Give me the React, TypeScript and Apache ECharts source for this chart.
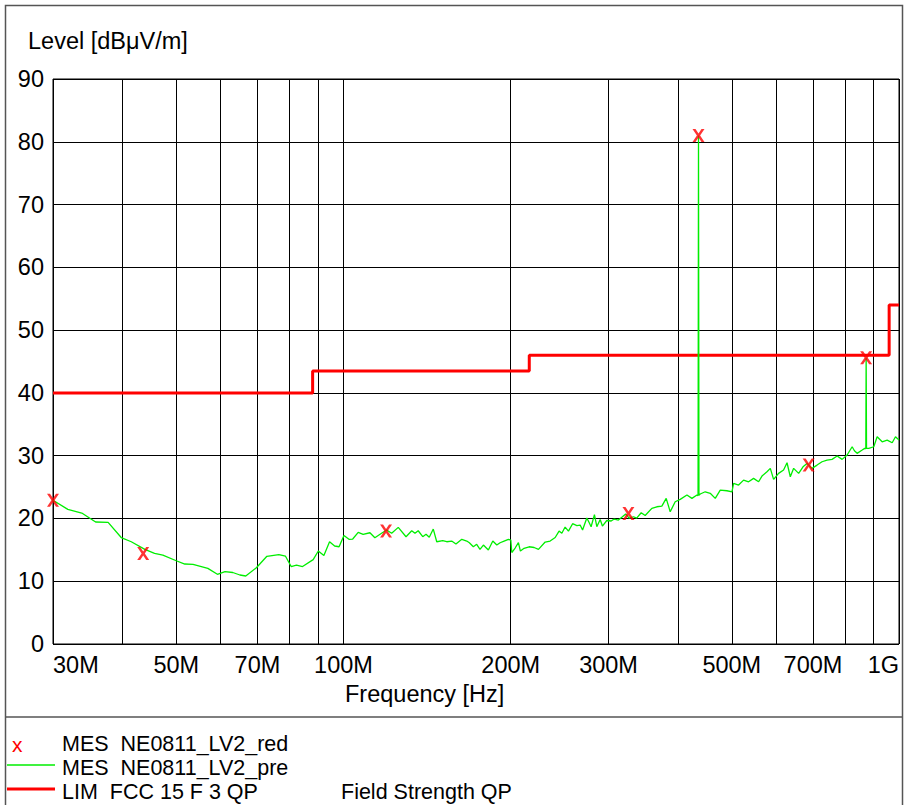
import React, { useEffect, useRef } from "react";
import * as echarts from "echarts";

const FONT = 'Arial, "Liberation Sans", Helvetica, sans-serif';

// Axis ticks (MHz)
const gridFreqs = [30, 40, 50, 60, 70, 80, 90, 100, 200, 300, 400, 500, 600, 700, 800, 900, 1000];
const labelFreqs = [30, 50, 70, 100, 200, 300, 500, 700, 1000];

// Limit line FCC 15 F 3 QP (MHz, dBµV/m)
const limitFreq = [30, 88, 88, 216, 216, 960, 960, 1000];
const limitLevel = [40, 40, 43.5, 43.5, 46, 46, 54, 54];

// Final measurements (red x)
const markerFreq = [30.0, 43.6, 119.3, 325.8, 435.6, 687.6, 872.7];
const markerLevel = [22.9, 14.4, 18.0, 20.8, 81.0, 28.5, 45.6];

// Pre-scan trace (green)
const traceFreq = [
  30.0, 31.9, 33.8, 35.8, 37.7, 39.8, 41.5, 43.9, 45.7, 47.3,
  50.0, 51.8, 53.6, 57.0, 59.3, 61.2, 63.2, 65.1, 66.7, 69.7,
  72.8, 76.5, 78.6, 80.5, 82.3, 84.4, 88.2, 90.1, 92.2, 94.4,
  96.4, 98.2, 100.2, 102.3, 103.9, 106.3, 108.5, 111.6, 113.9, 117.1,
  119.6, 122.1, 125.5, 129.6, 132.7, 134.5, 136.3, 138.9, 140.8, 142.7,
  145.1, 147.2, 150.9, 153.4, 156.6, 159.4, 163.3, 166.7, 168.5, 171.3,
  173.7, 176.1, 178.6, 182.3, 185.7, 188.8, 191.4, 194.6, 198.1, 200.1,
  200.9, 203.7, 206.5, 208.2, 211.4, 215.9, 220.4, 224.4, 230.7, 235.5,
  240.5, 244.4, 247.2, 250.6, 254.1, 258.5, 263.1, 266.7, 269.4, 274.2,
  276.8, 279.1, 283.0, 285.8, 289.8, 292.5, 297.9, 303.3, 307.1, 312.5,
  317.8, 322.1, 326.8, 332.7, 337.1, 343.5, 349.2, 359.0, 366.5, 374.2,
  381.0, 387.4, 395.5, 403.8, 415.2, 423.9, 432.8, 434.8, 435.6, 436.4,
  438.7, 447.9, 457.3, 466.9, 476.7, 490.1, 500.4, 503.8, 514.3, 525.1,
  536.1, 547.3, 558.8, 566.7, 578.6, 586.6, 594.7, 607.1, 619.8, 628.7,
  637.3, 646.2, 659.7, 671.8, 683.0, 697.4, 712.0, 726.9, 742.2, 757.7,
  773.8, 790.0, 806.6, 823.5, 831.3, 840.7, 858.4, 867.7, 871.5, 872.7,
  874.0, 882.2, 900.7, 913.4, 932.6, 952.1, 972.1, 985.6, 1000
];
const traceLevel = [
  22.9, 21.45, 20.86, 19.43, 19.38, 16.96, 16.29, 15.08, 14.44, 14.17,
  13.26, 12.74, 12.69, 12.05, 11.1, 11.54, 11.39, 10.99, 10.83, 12.15,
  13.97, 14.25, 14.01, 12.34, 12.58, 12.34, 13.44, 14.81, 14.09, 16.29,
  15.61, 15.49, 17.28, 16.67, 16.72, 17.79, 17.47, 17.72, 16.93, 17.63,
  18.15, 17.63, 18.58, 17.09, 18.04, 17.63, 18.04, 17.09, 17.47, 16.99,
  18.31, 16.29, 16.45, 16.29, 16.4, 15.92, 16.67, 16.4, 16.13, 15.49,
  15.88, 15.08, 15.76, 14.97, 16.4, 15.76, 16.13, 16.4, 16.67, 16.56,
  14.57, 15.29, 16.16, 14.81, 15.24, 15.49, 15.37, 15.08, 16.24, 16.4,
  16.96, 17.99, 17.63, 18.63, 17.99, 19.16, 18.87, 18.95, 18.15, 20.06,
  19.35, 18.68, 20.62, 18.68, 19.82, 18.79, 19.67, 19.59, 19.9, 19.75,
  20.27, 20.7, 20.06, 20.27, 20.06, 20.91, 20.46, 21.61, 21.86, 21.97,
  23.2, 21.07, 22.66, 23.04, 23.73, 23.2, 23.73, 23.6, 81.0, 23.7,
  23.89, 24.25, 24.0, 23.2, 24.52, 24.41, 24.25, 25.59, 25.32, 26.11,
  25.84, 26.38, 25.84, 26.75, 27.44, 27.98, 26.23, 27.18, 27.71, 28.87,
  26.64, 27.98, 27.18, 28.23, 28.77, 27.98, 28.5, 29.03, 29.3, 29.41,
  29.94, 29.41, 30.1, 31.42, 30.78, 30.37, 30.89, 31.16, 31.1, 45.6,
  31.2, 31.16, 31.42, 33.01, 32.21, 32.48, 32.05, 33.01, 32.48
];

const xPath = "path://M0,0 H3 L6,4.5 L9,0 H12 L7.6,6.5 L12,13 H9 L6,8.5 L3,13 H0 L4.4,6.5 Z";

function fmtFreq(v: number): string {
  const r = Math.round(v);
  return r >= 1000 ? r / 1000 + "G" : r + "M";
}

export default function App() {
  const ref = useRef<HTMLDivElement>(null);

  useEffect(() => {
    if (!ref.current) return;
    const chart = echarts.init(ref.current, null, { renderer: "svg" });

    const limitData = limitFreq.map((f, i) => [f, limitLevel[i]]);
    const traceData = traceFreq.map((f, i) => [f, traceLevel[i]]);
    const markerData = markerFreq.map((f, i) => [f, markerLevel[i]]);

    const txt = (text: string, x: number, y: number, extra: any = {}) => ({
      type: "text",
      x,
      y,
      silent: true,
      style: {
        text,
        fontSize: 23.5,
        fontFamily: FONT,
        fill: "#000",
        align: "left",
        verticalAlign: "middle",
        ...extra,
      },
    });
    const LEG = { fontSize: 21.5 };

    chart.setOption({
      animation: false,
      backgroundColor: "#fff",
      grid: {
        left: 53,
        right: 6,
        top: 79,
        bottom: 161,
        show: true,
        borderColor: "#000",
        borderWidth: 1,
        backgroundColor: "transparent",
        outerBoundsMode: "none",
        containLabel: false,
      },
      xAxis: {
        type: "log",
        logBase: 10,
        min: 30,
        max: 1000,
        axisLine: { show: false },
        axisTick: { show: false, customValues: gridFreqs },
        splitLine: { show: true, lineStyle: { color: "#000", width: 1 } },
        minorSplitLine: { show: false },
        axisLabel: {
          customValues: labelFreqs,
          formatter: (v: number) => fmtFreq(v),
          fontSize: 23.5,
          fontFamily: FONT,
          color: "#000",
          margin: 9,
          showMinLabel: true,
          showMaxLabel: true,
          hideOverlap: false,
          alignMinLabel: "left",
          alignMaxLabel: "right",
        },
      },
      yAxis: {
        type: "value",
        min: 0,
        max: 90,
        interval: 10,
        axisLine: { show: false },
        axisTick: { show: false },
        splitLine: { show: true, lineStyle: { color: "#000", width: 1 } },
        axisLabel: {
          fontSize: 23.5,
          fontFamily: FONT,
          color: "#000",
          margin: 9,
        },
      },
      series: [
        {
          name: "LIM FCC 15 F 3 QP",
          type: "line",
          data: limitData,
          showSymbol: false,
          symbol: "none",
          lineStyle: { color: "#ff0000", width: 3 },
          z: 3,
        },
        {
          name: "MES NE0811_LV2_pre",
          type: "line",
          data: traceData,
          showSymbol: false,
          symbol: "none",
          lineStyle: { color: "#00ee00", width: 1.3 },
          z: 4,
        },
        {
          name: "MES NE0811_LV2_red",
          type: "scatter",
          data: markerData,
          symbol: xPath,
          symbolSize: [12, 13],
          itemStyle: { color: "#ff0000" },
          z: 5,
        },
      ],
      graphic: [
        {
          type: "rect",
          silent: true,
          shape: { x: 5.5, y: 5.5, width: 897, height: 810 },
          style: { fill: "none", stroke: "#555", lineWidth: 1.5 },
        },
        {
          type: "line",
          silent: true,
          shape: { x1: 5.5, y1: 717, x2: 902.5, y2: 717 },
          style: { stroke: "#555", lineWidth: 1.5 },
        },
        txt("Level [dBμV/m]", 28, 41),
        txt("Frequency [Hz]", 345, 694),
        txt("x", 12, 744, { fill: "#ff0000", fontSize: 21 }),
        txt("MES  NE0811_LV2_red", 62, 744, LEG),
        {
          type: "line",
          silent: true,
          shape: { x1: 7, y1: 765, x2: 55, y2: 765 },
          style: { stroke: "#00ee00", lineWidth: 1.3 },
        },
        txt("MES  NE0811_LV2_pre", 62, 768, LEG),
        {
          type: "line",
          silent: true,
          shape: { x1: 7, y1: 789, x2: 55, y2: 789 },
          style: { stroke: "#ff0000", lineWidth: 3 },
        },
        txt("LIM  FCC 15 F 3 QP", 62, 792, LEG),
        txt("Field Strength QP", 341, 792, LEG),
      ],
    });

    return () => chart.dispose();
  }, []);

  return (
    <div
      ref={ref}
      style={{ position: "fixed", left: 0, top: 0, width: 905, height: 805, background: "#fff" }}
    />
  );
}
